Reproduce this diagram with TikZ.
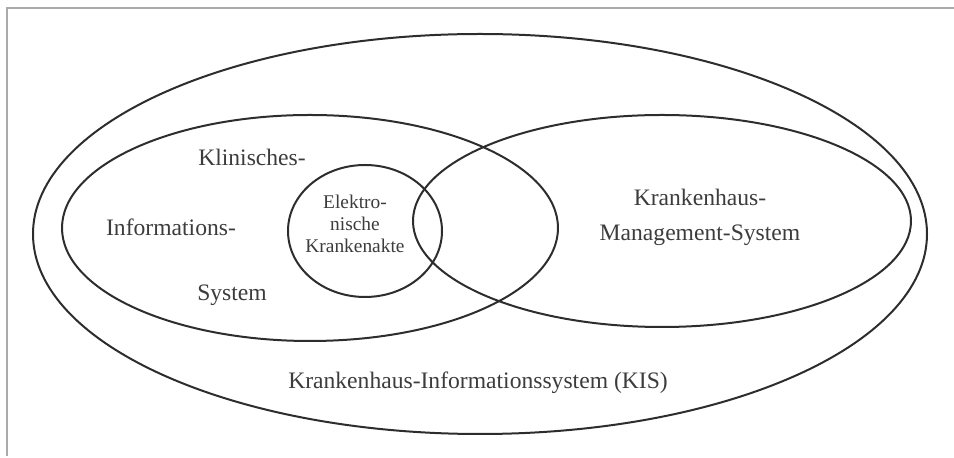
\documentclass[tikz,border=0pt]{standalone}
\usepackage{fontspec}
\setmainfont{Liberation Serif}
\usepackage{tikz}
\usetikzlibrary{shapes.geometric}
\definecolor{lineGray}{RGB}{45,45,45}
\definecolor{textGray}{RGB}{60,60,60}
\definecolor{frameGray}{RGB}{170,170,170}
\tikzset{
  setshape/.style={draw=lineGray, line width=1pt, ellipse, inner sep=0pt},
  biglabel/.style={text=textGray, font=\fontsize{11.8}{17.5}\selectfont, align=center, inner sep=0pt},
  smalllabel/.style={text=textGray, font=\fontsize{9.7}{11}\selectfont, align=center, inner sep=0pt}
}

\begin{document}
\begin{tikzpicture}[x=0.5pt, y=-0.5pt]
        \useasboundingbox (0,0) rectangle (954,458);
        \draw[frameGray, line width=0.8pt] (7,456) -- (7,8) -- (954,8);
        % Mengen
        \node[setshape, minimum width=447pt, minimum height=200pt] (kis) at (480,234) {};
        \node[setshape, minimum width=248pt, minimum height=113pt] (klin) at (310,228) {};
        \node[setshape, minimum width=249pt, minimum height=106pt] (kms) at (662,221) {};
        \node[setshape, minimum width=77pt, minimum height=66pt] (epa) at (365,231) {};
        % Beschriftungen
        \node[biglabel] (klinA) at (252,157) {Klinisches-};
        \node[biglabel] (klinB) at (171,227) {Informations-};
        \node[biglabel] (klinC) at (232,295) {System};
        \node[smalllabel] (epaText) at (355,224) {Elektro-\\nische\\Krankenakte};
        \node[biglabel] (kmsText) at (700,217) {Krankenhaus-\\Management-System};
        \node[biglabel] (kisText) at (478,383) {Krankenhaus-Informationssystem (KIS)};
\end{tikzpicture}
\end{document}
